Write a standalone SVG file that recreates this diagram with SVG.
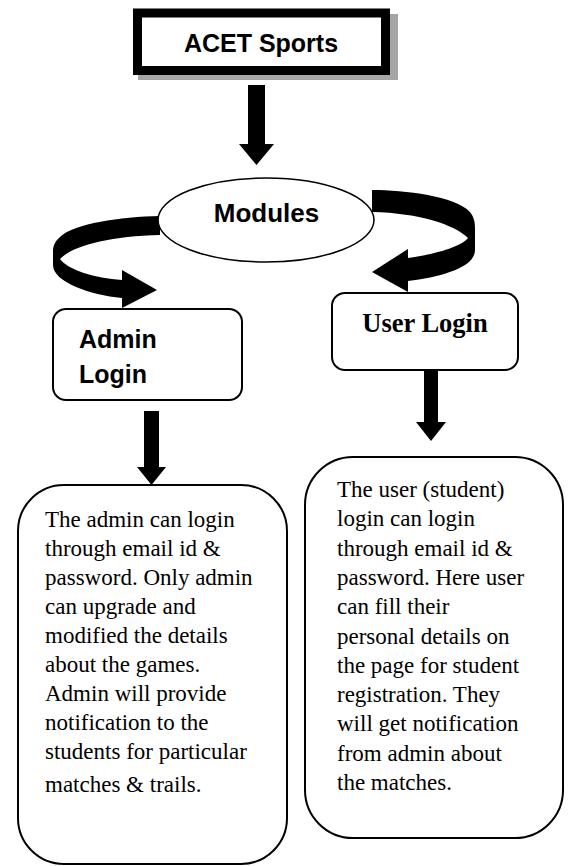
<svg xmlns="http://www.w3.org/2000/svg" width="569" height="866" viewBox="0 0 569 866">
<style>
.bg{fill:#fff}
.box{fill:#fff;stroke:#000;stroke-width:2}
.arw{fill:#000;stroke:none}
.hd{font-family:"Liberation Sans",Arial,sans-serif;font-weight:bold;fill:#000}
.ul{font-family:"Liberation Serif","Times New Roman",serif;font-weight:bold;fill:#000}
.body{font-family:"Liberation Serif","Times New Roman",serif;font-size:23px;fill:#000}
</style>
<rect class="bg" x="0" y="0" width="569" height="866"/>
<g id="connectors">
  <polygon class="arw" points="248,85 265,85 265,144 274,144 256.5,165 239,144 248,144"/>
  <path class="arw" d="M160,216 C120,217 75,223 60,237 C54,242 53,247 53,252 L53,265 C53,282 90,295 122,298 L122,308 L157,290 L122,270 L122,280 C95,278 68,270 60,259 C72,246 110,236 160,235 Z"/>
  <path class="arw" d="M372,190 C405,190 455,196 470,212 C474,217 475,222 475,228 L475,250 C475,268 440,277 408,281 L408,292 L372,272 L408,249 L408,258 C430,255 460,248 468,238 C455,225 420,213 372,212 Z"/>
  <polygon class="arw" points="144,411 159,411 159,467 166,467 151.5,485 137,467 144,467"/>
  <polygon class="arw" points="424,370 438,370 438,422 446,422 431,441 416,422 424,422"/>
</g>
<g id="title">
  <rect x="138" y="14" width="260" height="66" fill="#a6a6a6"/>
  <rect x="137.5" y="13" width="248" height="57.5" fill="#fff" stroke="#000" stroke-width="9"/>
  <text class="hd" x="261" y="52" font-size="25" text-anchor="middle">ACET Sports</text>
</g>
<g id="modules">
  <ellipse cx="266" cy="220" rx="108" ry="42" fill="#fff" stroke="#000" stroke-width="1.5"/>
  <text class="hd" x="266.5" y="222" font-size="26" text-anchor="middle">Modules</text>
</g>
<g id="admin-login">
  <rect class="box" x="53" y="309" width="189" height="91" rx="13"/>
  <text class="hd" font-size="25"><tspan x="79" y="348">Admin</tspan><tspan x="79" y="383">Login</tspan></text>
</g>
<g id="user-login">
  <rect class="box" x="332" y="293" width="186" height="77" rx="13"/>
  <text class="ul" x="425" y="332" font-size="26.5" text-anchor="middle">User Login</text>
</g>
<g id="admin-desc">
  <rect class="box" x="18" y="485" width="269" height="379" rx="46"/>
  <text class="body">
    <tspan x="45" y="527">The admin can login</tspan>
    <tspan x="45" y="556">through email id &amp;</tspan>
    <tspan x="45" y="585">password. Only admin</tspan>
    <tspan x="45" y="614">can upgrade and</tspan>
    <tspan x="45" y="643">modified the details</tspan>
    <tspan x="45" y="672">about the games.</tspan>
    <tspan x="45" y="701">Admin will provide</tspan>
    <tspan x="45" y="730">notification to the</tspan>
    <tspan x="45" y="759">students for  particular</tspan>
    <tspan x="45" y="792">matches &amp; trails.</tspan>
  </text>
</g>
<g id="user-desc">
  <rect class="box" x="305" y="457" width="258" height="381" rx="48"/>
  <text class="body">
    <tspan x="337" y="497">The user (student)</tspan>
    <tspan x="337" y="526">login can login</tspan>
    <tspan x="337" y="556">through email id &amp;</tspan>
    <tspan x="337" y="585">password. Here user</tspan>
    <tspan x="337" y="614">can fill their</tspan>
    <tspan x="337" y="644">personal details on</tspan>
    <tspan x="337" y="673">the page for student</tspan>
    <tspan x="337" y="702">registration. They</tspan>
    <tspan x="337" y="731">will get notification</tspan>
    <tspan x="337" y="761">from admin about</tspan>
    <tspan x="337" y="790">the matches.</tspan>
  </text>
</g>
</svg>
